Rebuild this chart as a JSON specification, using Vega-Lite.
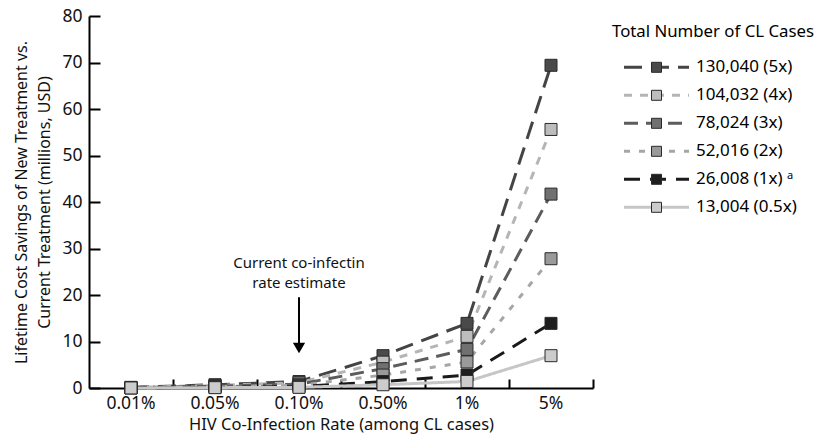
{
  "$schema": "https://vega.github.io/schema/vega-lite/v6.json",
  "width": 504,
  "height": 372,
  "autosize": {"type": "none"},
  "padding": {"left": 89, "top": 16, "right": 226, "bottom": 55},
  "config": {
    "font": "Noto Sans",
    "view": {"stroke": null},
    "axis": {
      "domainColor": "#000000",
      "domainWidth": 2,
      "tickColor": "#000000",
      "tickWidth": 2,
      "grid": false,
      "labelColor": "#111111",
      "titleColor": "#111111",
      "labelFont": "Noto Sans",
      "titleFont": "Noto Sans",
      "titleFontWeight": "normal"
    },
    "legend": {"labelFont": "Noto Sans", "titleFont": "Noto Sans"}
  },
  "resolve": {"axis": {"x": "independent"}},
  "datasets": {
    "series": [
      {"rate": "0.01%", "cases": "130,040 (5x)", "mult": "5x", "value": 0.14},
      {"rate": "0.05%", "cases": "130,040 (5x)", "mult": "5x", "value": 0.7},
      {"rate": "0.10%", "cases": "130,040 (5x)", "mult": "5x", "value": 1.39},
      {"rate": "0.50%", "cases": "130,040 (5x)", "mult": "5x", "value": 6.95},
      {"rate": "1%", "cases": "130,040 (5x)", "mult": "5x", "value": 13.9},
      {"rate": "5%", "cases": "130,040 (5x)", "mult": "5x", "value": 69.4},
      {"rate": "0.01%", "cases": "104,032 (4x)", "mult": "4x", "value": 0.11},
      {"rate": "0.05%", "cases": "104,032 (4x)", "mult": "4x", "value": 0.56},
      {"rate": "0.10%", "cases": "104,032 (4x)", "mult": "4x", "value": 1.11},
      {"rate": "0.50%", "cases": "104,032 (4x)", "mult": "4x", "value": 5.56},
      {"rate": "1%", "cases": "104,032 (4x)", "mult": "4x", "value": 11.1},
      {"rate": "5%", "cases": "104,032 (4x)", "mult": "4x", "value": 55.6},
      {"rate": "0.01%", "cases": "78,024 (3x)", "mult": "3x", "value": 0.08},
      {"rate": "0.05%", "cases": "78,024 (3x)", "mult": "3x", "value": 0.42},
      {"rate": "0.10%", "cases": "78,024 (3x)", "mult": "3x", "value": 0.83},
      {"rate": "0.50%", "cases": "78,024 (3x)", "mult": "3x", "value": 4.17},
      {"rate": "1%", "cases": "78,024 (3x)", "mult": "3x", "value": 8.3},
      {"rate": "5%", "cases": "78,024 (3x)", "mult": "3x", "value": 41.7},
      {"rate": "0.01%", "cases": "52,016 (2x)", "mult": "2x", "value": 0.06},
      {"rate": "0.05%", "cases": "52,016 (2x)", "mult": "2x", "value": 0.28},
      {"rate": "0.10%", "cases": "52,016 (2x)", "mult": "2x", "value": 0.56},
      {"rate": "0.50%", "cases": "52,016 (2x)", "mult": "2x", "value": 2.78},
      {"rate": "1%", "cases": "52,016 (2x)", "mult": "2x", "value": 5.6},
      {"rate": "5%", "cases": "52,016 (2x)", "mult": "2x", "value": 27.8},
      {"rate": "0.01%", "cases": "26,008 (1x) ᵃ", "mult": "1x", "value": 0.03},
      {"rate": "0.05%", "cases": "26,008 (1x) ᵃ", "mult": "1x", "value": 0.14},
      {"rate": "0.10%", "cases": "26,008 (1x) ᵃ", "mult": "1x", "value": 0.28},
      {"rate": "0.50%", "cases": "26,008 (1x) ᵃ", "mult": "1x", "value": 1.39},
      {"rate": "1%", "cases": "26,008 (1x) ᵃ", "mult": "1x", "value": 2.8},
      {"rate": "5%", "cases": "26,008 (1x) ᵃ", "mult": "1x", "value": 13.9},
      {"rate": "0.01%", "cases": "13,004 (0.5x)", "mult": "0.5x", "value": 0.01},
      {"rate": "0.05%", "cases": "13,004 (0.5x)", "mult": "0.5x", "value": 0.07},
      {"rate": "0.10%", "cases": "13,004 (0.5x)", "mult": "0.5x", "value": 0.14},
      {"rate": "0.50%", "cases": "13,004 (0.5x)", "mult": "0.5x", "value": 0.7},
      {"rate": "1%", "cases": "13,004 (0.5x)", "mult": "0.5x", "value": 1.4},
      {"rate": "5%", "cases": "13,004 (0.5x)", "mult": "0.5x", "value": 6.95}
    ],
    "labels": [
      {"rate": "0.10%", "y": 26.9, "text": "Current co-infectin"},
      {"rate": "0.10%", "y": 22.5, "text": "rate estimate"}
    ],
    "arrow": [
      {"rate": "0.10%", "y": 19.5, "y2": 9.5}
    ],
    "head": [
      {"rate": "0.10%", "y": 8.6}
    ]
  },
  "layer": [
    {
      "data": {"name": "series"},
      "mark": {"type": "line", "strokeWidth": 3, "strokeCap": "butt"},
      "encoding": {
        "x": {
          "field": "rate",
          "type": "nominal",
          "sort": ["0.01%", "0.05%", "0.10%", "0.50%", "1%", "5%"],
          "scale": {"type": "band", "domain": ["0.01%", "0.05%", "0.10%", "0.50%", "1%", "5%"], "paddingInner": 0, "paddingOuter": 0},
          "axis": {
            "orient": "bottom",
            "title": "HIV Co-Infection Rate (among CL cases)",
            "titleFontSize": 16.5,
            "titlePadding": 5,
            "labelFontSize": 17.5,
            "labelAngle": 0,
            "labelPadding": 6,
            "ticks": false
          }
        },
        "y": {
          "field": "value",
          "type": "quantitative",
          "scale": {"domain": [0, 80], "nice": false},
          "axis": {
            "title": ["Lifetime Cost Savings of New Treatment vs.", "Current Treatment (millions, USD)"],
            "titleFontSize": 16,
            "titleLineHeight": 23,
            "titlePadding": 9,
            "labelFontSize": 17.5,
            "labelPadding": 18,
            "tickSize": -11,
            "values": [0, 10, 20, 30, 40, 50, 60, 70, 80]
          }
        },
        "detail": {"field": "cases"},
        "stroke": {
          "field": "cases",
          "type": "nominal",
          "scale": {
            "domain": ["130,040 (5x)", "104,032 (4x)", "78,024 (3x)", "52,016 (2x)", "26,008 (1x) ᵃ", "13,004 (0.5x)"],
            "range": ["#444444", "#b5b5b5", "#5c5c5c", "#a6a6a6", "#1a1a1a", "#c6c6c6"]
          },
          "legend": {
            "orient": "none",
            "legendX": 523,
            "legendY": 8,
            "title": "Total Number of CL Cases",
            "titleLimit": 400,
            "titleFontSize": 16.8,
            "titleFontWeight": "normal",
            "titlePadding": 18,
            "labelFontSize": 17,
            "labelLimit": 300,
            "labelOffset": 31,
            "symbolOffset": 36,
            "symbolType": "M-6.5,0H6.5",
            "symbolSize": 100,
            "symbolStrokeWidth": 3,
            "rowPadding": 10,
            "zindex": 1
          }
        },
        "strokeDash": {
          "field": "cases",
          "type": "nominal",
          "scale": {
            "domain": ["130,040 (5x)", "104,032 (4x)", "78,024 (3x)", "52,016 (2x)", "26,008 (1x) ᵃ", "13,004 (0.5x)"],
            "range": [[18, 9], [8, 8], [14, 8], [6, 9], [16, 10], [1, 0]]
          },
          "legend": {
            "orient": "none",
            "legendX": 523,
            "legendY": 8,
            "title": "Total Number of CL Cases",
            "titleLimit": 400,
            "titleFontSize": 16.8,
            "titleFontWeight": "normal",
            "titlePadding": 18,
            "labelFontSize": 17,
            "labelLimit": 300,
            "labelOffset": 31,
            "symbolOffset": 36,
            "symbolType": "M-6.5,0H6.5",
            "symbolSize": 100,
            "symbolStrokeWidth": 3,
            "rowPadding": 10,
            "zindex": 1
          }
        }
      }
    },
    {
      "data": {"name": "series"},
      "mark": {"type": "point", "shape": "square", "filled": true, "size": 144, "stroke": "#2a2a2a", "strokeWidth": 1, "opacity": 1},
      "encoding": {
        "x": {
          "field": "rate",
          "type": "nominal",
          "sort": ["0.01%", "0.05%", "0.10%", "0.50%", "1%", "5%"],
          "axis": {
            "orient": "bottom",
            "title": null,
            "labels": false,
            "domain": false,
            "ticks": true,
            "tickSize": -9,
            "tickOffset": 42
          }
        },
        "y": {"field": "value", "type": "quantitative"},
        "fill": {
          "field": "mult",
          "type": "nominal",
          "scale": {
            "domain": ["5x", "4x", "3x", "2x", "1x", "0.5x"],
            "range": ["#4a4a4a", "#bdbdbd", "#707070", "#9a9a9a", "#1e1e1e", "#cccccc"]
          },
          "legend": {
            "orient": "none",
            "legendX": 523,
            "legendY": 8,
            "title": "Total Number of CL Cases",
            "titleLimit": 400,
            "titleOpacity": 0,
            "titleFontSize": 16.8,
            "titleFontWeight": "normal",
            "titlePadding": 18,
            "labelFontSize": 17,
            "labelExpr": "' '",
            "labelOffset": 31,
            "symbolOffset": 36,
            "symbolType": "square",
            "symbolSize": 100,
            "symbolStrokeColor": "#2a2a2a",
            "symbolStrokeWidth": 1,
            "symbolOpacity": 1,
            "rowPadding": 10,
            "zindex": 2
          }
        }
      }
    },
    {
      "data": {"name": "labels"},
      "mark": {"type": "text", "fontSize": 15, "align": "center", "baseline": "middle", "color": "#111111"},
      "encoding": {
        "x": {"field": "rate", "type": "nominal", "axis": null},
        "y": {"field": "y", "type": "quantitative"},
        "text": {"field": "text"}
      }
    },
    {
      "data": {"name": "arrow"},
      "mark": {"type": "rule", "strokeWidth": 2, "color": "#000000"},
      "encoding": {
        "x": {"field": "rate", "type": "nominal", "axis": null},
        "y": {"field": "y", "type": "quantitative"},
        "y2": {"field": "y2"}
      }
    },
    {
      "data": {"name": "head"},
      "mark": {"type": "point", "shape": "triangle-down", "filled": true, "size": 150, "color": "#000000", "opacity": 1},
      "encoding": {
        "x": {"field": "rate", "type": "nominal", "axis": null},
        "y": {"field": "y", "type": "quantitative"}
      }
    }
  ]
}
